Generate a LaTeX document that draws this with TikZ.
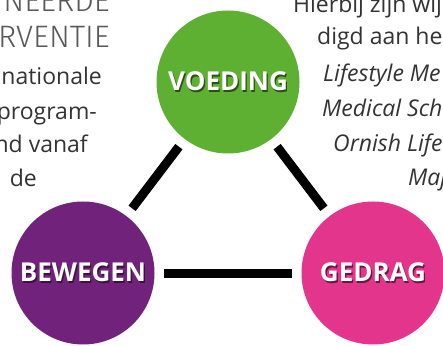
\documentclass[tikz,border=0pt]{standalone}
\usepackage{fontspec}
\setmainfont{Open Sans}
\newfontfamily\lightfont{Fira Sans Light}
\usepackage{tikz}
\usetikzlibrary{positioning}
\usepackage{xcolor}

\definecolor{voedinggreen}{HTML}{5EB032}
\definecolor{bewegenpurple}{HTML}{71237C}
\definecolor{gedragpink}{HTML}{E4358C}

% white label with a dark offset copy behind it
\newcommand{\shadowed}[2]{\makebox[0pt][l]{\hspace{1.3pt}\raisebox{-1.5pt}{\color{#1}#2}}{\color{white}#2}}

\begin{document}
\begin{tikzpicture}[
    x=1pt, y=1pt,
    circ/.style={circle, minimum size=143pt, inner sep=0pt, font=\fontsize{26}{26}\selectfont\bfseries},
    link/.style={line width=9pt, shorten <=9.5pt, shorten >=9.5pt},
    bodytext/.style={inner sep=0pt, text=black!80, font=\fontsize{23}{23}\selectfont},
    headtext/.style={inner sep=0pt, text=black!65, font=\lightfont\fontsize{31}{31}\selectfont}
]
    \useasboundingbox (0,0) rectangle (443,345);
    \clip (0,0) rectangle (443,345);

    % Heading (left column)
    \node[headtext, anchor=base east] (head1) at (110,333) {NEERDE};
    \node[headtext, anchor=base east] (head2) at (110,297) {RVENTIE};

    % Left column
    \node[bodytext, anchor=base east] (left1) at (102,260) {nationale};
    \node[bodytext, anchor=base east] (left2) at (97,225) {program-};
    \node[bodytext, anchor=base east] (left3) at (88,192) {nd vanaf};
    \node[bodytext, anchor=base east] (left4) at (37,158) {de};

    % Right column
    \node[bodytext, anchor=base west] (right1) at (293,332) {Hierbij zijn wij};
    \node[bodytext, anchor=base west] (right2) at (317,300) {digd aan he};
    \node[bodytext, anchor=base west, font=\fontsize{23}{23}\selectfont\itshape] (right3) at (323,263) {Lifestyle Me};
    \node[bodytext, anchor=base west, font=\fontsize{23}{23}\selectfont\itshape] (right4) at (322,228) {Medical Sch};
    \node[bodytext, anchor=base west, font=\fontsize{23}{23}\selectfont\itshape] (right5) at (333,193) {Ornish Life};
    \node[bodytext, anchor=base west, font=\fontsize{23}{23}\selectfont\itshape] (right6) at (408,159) {Maj};

    % Circles
    \node[circ, fill=voedinggreen] (voeding) at (228,263) {\shadowed{voedinggreen!45!black}{VOEDING}};
    \node[circ, fill=bewegenpurple] (bewegen) at (83,72) {\shadowed{bewegenpurple!50!black}{BEWEGEN}};
    \node[circ, fill=gedragpink] (gedrag) at (373,72) {\shadowed{gedragpink!45!black}{GEDRAG}};

    % Links
    \draw[link] (bewegen) -- (voeding);
    \draw[link] (voeding) -- (gedrag);
    \draw[link] (bewegen) -- (gedrag);

\end{tikzpicture}
\end{document}
